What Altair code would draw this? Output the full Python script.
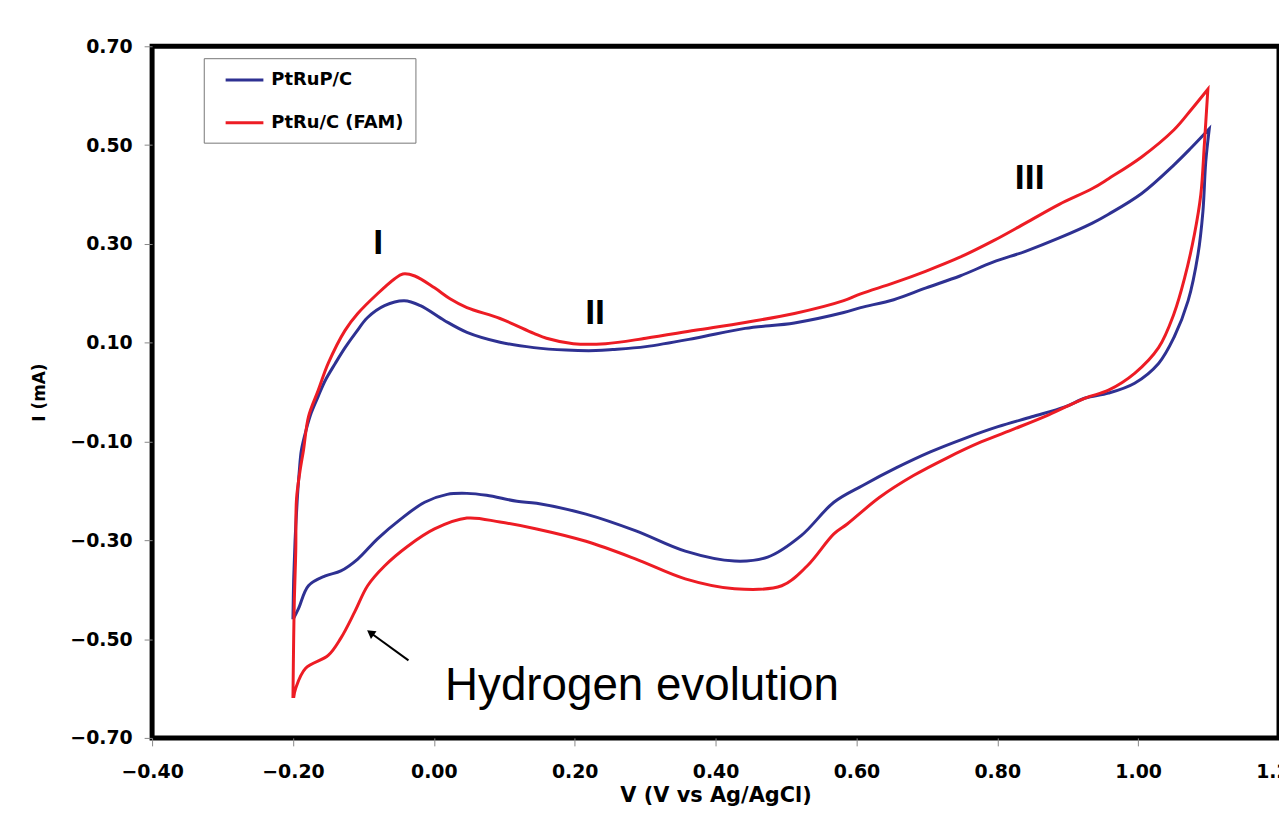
import altair as alt
import pandas as pd

# ---------------- data ----------------
series_names = ["PtRuP/C", "PtRu/C (FAM)"]
series_colors = ["#2E3192", "#ED1C24"]

blue_v = [-0.200, -0.200, -0.199, -0.197, -0.194, -0.191, -0.188, -0.181, -0.174, -0.164, -0.154,
          -0.140, -0.126, -0.110, -0.094, -0.070, -0.042, -0.019, 0.015, 0.047, 0.094,
          0.142, 0.188, 0.230, 0.254, 0.301, 0.371, 0.442, 0.512, 0.582, 0.606,
          0.653, 0.699, 0.747, 0.794, 0.840, 0.888, 0.935, 0.958, 1.005, 1.051,
          1.075, 1.101, 1.101,
          1.096, 1.092, 1.085, 1.071, 1.051, 1.029, 0.995, 0.958, 0.925, 0.896,
          0.849, 0.801, 0.753, 0.705, 0.657, 0.609, 0.568, 0.522, 0.474, 0.427,
          0.357, 0.287, 0.216, 0.146, 0.118, 0.075, 0.047, 0.019, -0.013, -0.047,
          -0.080, -0.108, -0.132, -0.154, -0.178, -0.192, -0.199]
blue_i = [-0.460, -0.460, -0.380, -0.300, -0.220, -0.160, -0.117, -0.075, -0.042, -0.008, 0.024,
          0.058, 0.090, 0.122, 0.151, 0.175, 0.185, 0.175, 0.145, 0.121, 0.101,
          0.090, 0.085, 0.084, 0.086, 0.092, 0.109, 0.129, 0.140, 0.161, 0.171,
          0.187, 0.211, 0.235, 0.263, 0.285, 0.312, 0.342, 0.360, 0.402, 0.460,
          0.494, 0.533, 0.533,
          0.466, 0.366, 0.279, 0.185, 0.111, 0.058, 0.018, -0.002, -0.012, -0.030,
          -0.050, -0.070, -0.094, -0.121, -0.153, -0.189, -0.223, -0.290, -0.334, -0.342,
          -0.322, -0.281, -0.247, -0.225, -0.221, -0.209, -0.205, -0.207, -0.223, -0.257,
          -0.297, -0.338, -0.362, -0.372, -0.392, -0.438, -0.458]

red_v = [-0.200, -0.200, -0.199, -0.198, -0.196, -0.195, -0.190, -0.185, -0.178, -0.164, -0.150,
         -0.126, -0.108, -0.080, -0.056, -0.044, -0.027, 0.001, 0.023, 0.047, 0.094,
         0.142, 0.160, 0.198, 0.244, 0.301, 0.371, 0.442, 0.512, 0.582, 0.606,
         0.653, 0.699, 0.747, 0.794, 0.840, 0.888, 0.935, 0.958, 1.005, 1.051,
         1.075, 1.099, 1.099,
         1.094, 1.089, 1.080, 1.066, 1.051, 1.029, 0.995, 0.958, 0.925, 0.873,
         0.825, 0.777, 0.729, 0.681, 0.633, 0.587, 0.568, 0.530, 0.494, 0.427,
         0.357, 0.287, 0.216, 0.146, 0.094, 0.047, 0.001, -0.037, -0.070, -0.094,
         -0.112, -0.132, -0.150, -0.182, -0.196, -0.199]
red_i = [-0.619, -0.619, -0.500, -0.418, -0.320, -0.217, -0.160, -0.117, -0.050, 0.004, 0.058,
         0.125, 0.159, 0.199, 0.229, 0.239, 0.235, 0.211, 0.189, 0.171, 0.149,
         0.119, 0.109, 0.098, 0.098, 0.109, 0.125, 0.141, 0.159, 0.185, 0.199,
         0.221, 0.245, 0.273, 0.306, 0.342, 0.380, 0.412, 0.432, 0.476, 0.531,
         0.571, 0.613, 0.613,
         0.501, 0.400, 0.320, 0.231, 0.159, 0.090, 0.038, 0.004, -0.012, -0.046,
         -0.074, -0.101, -0.133, -0.169, -0.213, -0.267, -0.287, -0.352, -0.392, -0.398,
         -0.378, -0.338, -0.302, -0.277, -0.263, -0.255, -0.277, -0.312, -0.352, -0.392,
         -0.444, -0.498, -0.533, -0.559, -0.599, -0.619]

x_ticks = [-0.40, -0.20, 0.00, 0.20, 0.40, 0.60, 0.80, 1.00, 1.20]
y_ticks = [0.70, 0.50, 0.30, 0.10, -0.10, -0.30, -0.50, -0.70]

peak_labels = ["I", "II", "III"]
peak_v = [-0.079, 0.229, 0.846]
peak_i = [0.302, 0.159, 0.434]

note_text = ["Hydrogen evolution"]
note_v = [0.016]
note_i = [-0.623]

arrow_v = [-0.036]
arrow_i = [-0.543]
arrow_v2 = [-0.090]
arrow_i2 = [-0.487]

X_TITLE = "V (V vs Ag/AgCl)"
Y_TITLE = "I (mA)"

# ---------------- tables ----------------
rows = []
for k, (vs, cs) in enumerate([(blue_v, blue_i), (red_v, red_i)]):
    for j, (v, c) in enumerate(zip(vs, cs)):
        rows.append({"series": series_names[k], "V": v, "I": c, "idx": j})
curves = pd.DataFrame(rows)

peaks = pd.DataFrame({"label": peak_labels, "V": peak_v, "I": peak_i})
note = pd.DataFrame({"label": note_text, "V": note_v, "I": note_i})
arrow = pd.DataFrame({"V": arrow_v, "I": arrow_i, "V2": arrow_v2, "I2": arrow_i2})

FONT = "DejaVu Sans"

xscale = alt.Scale(domain=[-0.4, 1.2], nice=False, zero=False)
yscale = alt.Scale(domain=[-0.7, 0.7], nice=False, zero=False)

xaxis = alt.Axis(title=X_TITLE, values=x_ticks, format=".2f")
yaxis = alt.Axis(title=Y_TITLE, values=y_ticks, format=".2f")


def xenc(field="V"):
    return alt.X(f"{field}:Q", scale=xscale, axis=xaxis, title=X_TITLE)


def yenc(field="I"):
    return alt.Y(f"{field}:Q", scale=yscale, axis=yaxis, title=Y_TITLE)


lines = alt.Chart(curves).mark_line(strokeWidth=3, interpolate="catmull-rom").encode(
    x=xenc(),
    y=yenc(),
    color=alt.Color(
        "series:N",
        scale=alt.Scale(domain=series_names, range=series_colors),
        sort=series_names,
        legend=alt.Legend(
            title=None, orient="none", legendX=52, legendY=12,
            symbolType="M0,0H4", symbolSize=361, symbolStrokeWidth=3,
            labelFont=FONT, labelFontSize=18, labelFontWeight="bold", labelColor="black",
            labelOffset=35, padding=11, rowPadding=23,
            strokeColor="#777777", fillColor="white",
        ),
    ),
    detail="series:N",
    order="idx:Q",
)

peak_text = alt.Chart(peaks).mark_text(
    font="Liberation Sans", fontSize=36, fontWeight="bold", color="black",
    align="center", baseline="middle",
).encode(x=xenc(), y=yenc(), text="label:N")

note_mark = alt.Chart(note).mark_text(
    font="Liberation Sans", fontSize=46, color="black", align="left", baseline="alphabetic",
).encode(x=xenc(), y=yenc(), text="label:N")

arrow_line = alt.Chart(arrow).mark_rule(color="black", strokeWidth=2).encode(
    x=xenc(), y=yenc(), x2="V2:Q", y2="I2:Q",
)
arrow_head = alt.Chart(arrow).mark_point(
    shape="triangle-up", filled=True, color="black", size=90, angle=306, opacity=1,
).encode(x=xenc("V2"), y=yenc("I2"))

chart = alt.layer(lines, peak_text, note_mark, arrow_line, arrow_head).properties(
    width=1134, height=696,
    autosize=alt.AutoSizeParams(type="none"),
    padding={"left": 145, "top": 36, "right": 0, "bottom": 66},
    background="white",
).configure_view(
    stroke="black", strokeWidth=5
).configure_axis(
    grid=False, domain=False,
    tickColor="#888888", tickSize=8, tickWidth=1,
    labelFont=FONT, labelFontSize=19, labelFontWeight="bold", labelColor="black",
    labelFlush=False,
    titleFont=FONT, titleFontWeight="bold", titleColor="black",
).configure_axisX(
    labelPadding=17, titleFontSize=21, titleY=64, titleBaseline="alphabetic",
).configure_axisY(
    labelPadding=12, titleFontSize=17, titleX=-113, titleY=348, titleAngle=270,
    titleBaseline="middle", titleAlign="center",
)

chart.save("out.html", embed_options={"renderer": "svg", "actions": False})
